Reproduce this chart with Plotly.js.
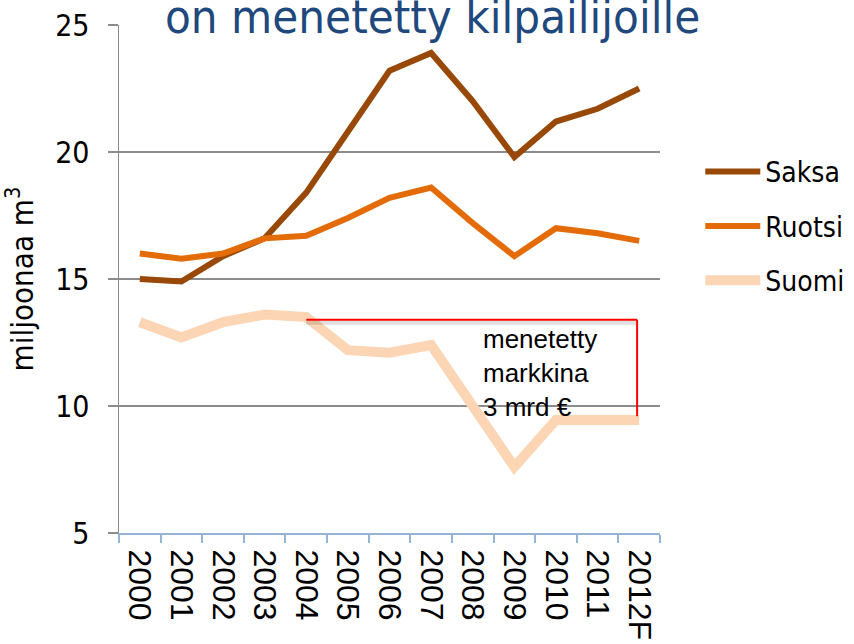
<!DOCTYPE html>
<html>
<head>
<meta charset="utf-8">
<script src="https://cdn.plot.ly/plotly-3.0.1.min.js"></script>
<style>html,body{margin:0;padding:0;background:#fff;}#chart{width:854px;height:644px;}</style>
</head>
<body>
<div id="chart"></div>
<script>
const years = ["2000","2001","2002","2003","2004","2005","2006","2007","2008","2009","2010","2011","2012F"];
const saksa  = [15.0, 14.9, 15.9, 16.6, 18.4, 20.8, 23.2, 23.9, 22.0, 19.8, 21.2, 21.7, 22.5];
const ruotsi = [16.0, 15.8, 16.0, 16.6, 16.7, 17.4, 18.2, 18.6, 17.2, 15.9, 17.0, 16.8, 16.5];
const suomi  = [13.3, 12.7, 13.3, 13.6, 13.5, 12.2, 12.1, 12.4, 10.0, 7.6, 9.45, 9.45, 9.45];
const seriesNames = ["Saksa", "Ruotsi", "Suomi"];
const titleText = "on menetetty kilpailijoille";
const yTitle = "miljoonaa m<sup>3</sup>";
const noteText = "menetetty<br>markkina<br>3 mrd €";
const lossLevel = 13.4;
const lossEnd = 9.6;

const traces = [
  {x: years, y: saksa, name: seriesNames[0], type: "scatter", mode: "lines", legendgroup: "a",
   line: {color: "#984807", width: 6}},
  {x: years, y: ruotsi, name: seriesNames[1], type: "scatter", mode: "lines", legendgroup: "b",
   line: {color: "#E36C09", width: 6}},
  {x: years, y: suomi, name: seriesNames[2], type: "scatter", mode: "lines", legendgroup: "c",
   line: {color: "#FCD5B5", width: 10}}
];

const layout = {
  width: 854, height: 644,
  margin: {l: 119, r: 194, t: 25, b: 111},
  paper_bgcolor: "#fff", plot_bgcolor: "#fff",
  showlegend: true,
  legend: {x: 0.82, xref: "container", y: 0.772, yref: "container", xanchor: "left", yanchor: "top",
           font: {family: "DejaVu Sans Condensed, DejaVu Sans", size: 28, color: "#000"},
           itemwidth: 55, tracegroupgap: 15, bgcolor: "rgba(0,0,0,0)"},
  xaxis: {type: "category", range: [-0.5, 12.5], tickangle: 90,
          tickfont: {family: "Liberation Sans, Arial", size: 32, color: "#000"},
          ticklabelstandoff: 8,
          showgrid: false, showline: true, linecolor: "#95B3D7", linewidth: 2,
          ticks: "outside", tickson: "boundaries", ticklen: 8, tickcolor: "#95B3D7", tickwidth: 2,
          zeroline: false, fixedrange: true},
  yaxis: {range: [5, 25], tickvals: [5, 10, 15, 20, 25], ticktext: ["5","10","15","20","25"],
          tickfont: {family: "DejaVu Sans Condensed, DejaVu Sans", size: 30, color: "#000"},
          ticklabelstandoff: 12,
          showgrid: true, gridcolor: "#8c8c8c", gridwidth: 1.5,
          showline: true, linecolor: "#8c8c8c", linewidth: 1.5,
          ticks: "outside", ticklen: 10, tickcolor: "#8c8c8c", tickwidth: 1.5,
          zeroline: false, fixedrange: true,
          title: {text: yTitle, font: {family: "DejaVu Sans Condensed, DejaVu Sans", size: 31, color: "#000"}, standoff: 16}},
  shapes: [
    {type: "line", xref: "x", yref: "y", x0: 4, x1: 11.95, y0: lossLevel - 0.12, y1: lossLevel - 0.12,
     line: {color: "rgba(0,0,0,0.12)", width: 4}},
    {type: "line", xref: "x", yref: "y", x0: 4, x1: 11.95, y0: lossLevel, y1: lossLevel,
     line: {color: "#FF0000", width: 2}},
    {type: "line", xref: "x", yref: "y", x0: 11.95, x1: 11.95, y0: lossLevel, y1: lossEnd,
     line: {color: "#FF0000", width: 2}}
  ],
  annotations: [
    {text: titleText, xref: "paper", yref: "paper", x: 0.58, y: 1.016, xanchor: "center", yanchor: "middle",
     showarrow: false, font: {family: "DejaVu Sans Condensed, DejaVu Sans", size: 47, color: "#1F497D"}},
    {text: noteText, xref: "x", yref: "y", x: 8.2, y: 13.3, xanchor: "left", yanchor: "top", align: "left",
     showarrow: false, font: {family: "Liberation Sans, Arial", size: 26, color: "#000"}}
  ]
};

Plotly.newPlot("chart", traces, layout, {displayModeBar: false, staticPlot: true});
</script>
</body>
</html>
